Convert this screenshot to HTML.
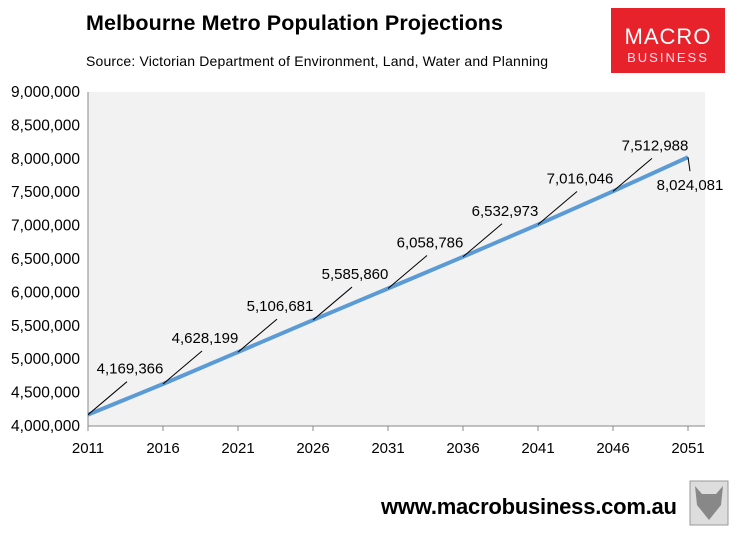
<!DOCTYPE html>
<html><head><meta charset="utf-8"><style>
body{margin:0;background:#fff;width:743px;height:541px;overflow:hidden;font-family:"Liberation Sans",Calibri,sans-serif;}
</style></head><body>
<svg width="743" height="541" style="position:absolute;left:0;top:0">
<text x="86" y="30" font-size="21.5" font-weight="bold" fill="#000" textLength="417">Melbourne Metro Population Projections</text>
<text x="86" y="66" font-size="14" fill="#000" textLength="462">Source: Victorian Department of Environment, Land, Water and Planning</text>
<g>
<rect x="611" y="8" width="114" height="65" fill="#e8222a"/>
<text x="668" y="44" font-size="22" fill="#fff" text-anchor="middle" letter-spacing="1">MACRO</text>
<text x="668" y="62" font-size="13" fill="#fde" text-anchor="middle" letter-spacing="2">BUSINESS</text>
</g>
<rect x="88" y="92" width="617" height="334" fill="#f2f2f2"/>
<g id="yaxis"></g>
<g id="xaxis"></g>
<g id="series"></g>
<text x="381" y="514" font-size="22" font-weight="bold" textLength="296" fill="#000">www.macrobusiness.com.au</text>
<g>
<rect x="690" y="481" width="38" height="44" fill="#ddd" stroke="#999"/>
<polygon points="695,486 702,494 716,494 723,486 721,505 709,520 697,505" fill="#888"/>
</g>
</svg>
<script>
const years=[2011,2016,2021,2026,2031,2036,2041,2046,2051];
const population=[4169366,4628199,5106681,5585860,6058786,6532973,7016046,7512988,8024081];
const labels=["4,169,366","4,628,199","5,106,681","5,585,860","6,058,786","6,532,973","7,016,046","7,512,988","8,024,081"];
const yTicks=[4000000,4500000,5000000,5500000,6000000,6500000,7000000,7500000,8000000,8500000,9000000];
const NS="http://www.w3.org/2000/svg";
const X=y=>88+(y-2011)*15;
const Y=v=>426-(v-4000000)/5000000*334;
function mk(t,a,p){const e=document.createElementNS(NS,t);for(const k in a)e.setAttribute(k,a[k]);p.appendChild(e);return e;}
const ya=document.getElementById('yaxis'),xa=document.getElementById('xaxis'),se=document.getElementById('series');
mk('line',{x1:88,y1:92,x2:88,y2:426,stroke:'#888'},ya);
yTicks.forEach(v=>{const t=mk('text',{x:80,y:Y(v)+5,'font-size':15.5,'text-anchor':'end',fill:'#000'},ya);t.textContent=v.toLocaleString('en-US');

});
mk('line',{x1:88,y1:426,x2:705,y2:426,stroke:'#888'},xa);
years.forEach(y=>{mk('line',{x1:X(y),y1:426,x2:X(y),y2:431,stroke:'#888'},xa);
const t=mk('text',{x:X(y),y:453,'font-size':15,'text-anchor':'middle',fill:'#000'},xa);t.textContent=y;

});
const pl=mk('polyline',{points:years.map((y,i)=>X(y)+','+Y(population[i])).join(' '),fill:'none',stroke:'#5b9bd5','stroke-width':4},se);


years.forEach((y,i)=>{const px=X(y),py=Y(population[i]);const last=i===years.length-1;
const lx=last?px+2:px+39,ly=last?py+14:py-33,tx=last?px+2:px+42,ty=last?py+33:py-41;
const l=mk('line',{x1:px,y1:py,x2:lx,y2:ly,stroke:'#000','stroke-width':1},se);


const t=mk('text',{x:tx,y:ty,'font-size':15,'text-anchor':'middle',fill:'#000'},se);t.textContent=labels[i];

});
</script>
</body></html>
